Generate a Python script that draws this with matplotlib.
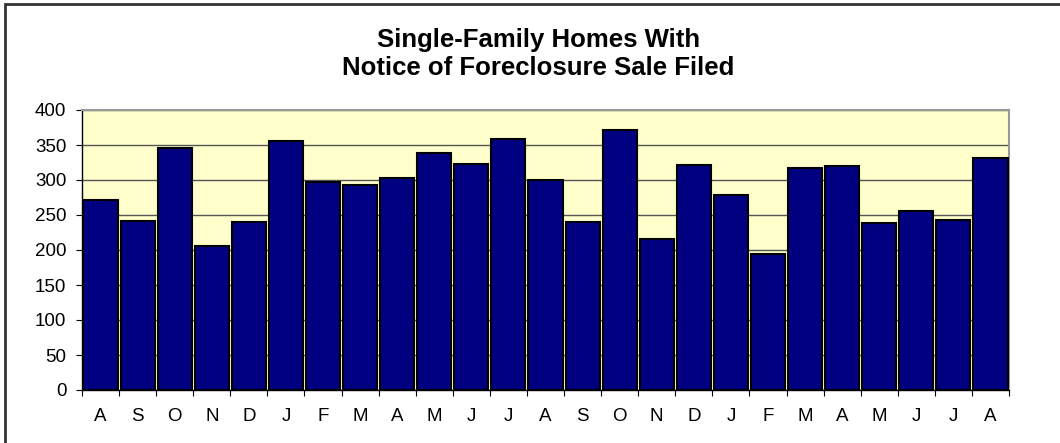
import matplotlib.pyplot as plt
from matplotlib.patches import Rectangle

months = ["A", "S", "O", "N", "D", "J", "F", "M", "A", "M", "J", "J", "A",
          "S", "O", "N", "D", "J", "F", "M", "A", "M", "J", "J", "A"]
homes = [271, 242, 346, 206, 240, 356, 297, 293, 303, 338, 323, 358, 300,
         240, 371, 215, 322, 279, 194, 317, 320, 238, 256, 243, 332]
y_ticks = [0, 50, 100, 150, 200, 250, 300, 350, 400]

plt.rcParams['font.family'] = ['Liberation Sans', 'DejaVu Sans']

fig = plt.figure(figsize=(10.6, 4.43), dpi=100)
ax = fig.add_axes([82 / 1060, 1 - 390 / 443, 927 / 1060, 280 / 443])

# outer chart frame, runs off the right/bottom edge like the reference
fig.patches.append(Rectangle((5 / 1060, -0.05), 1.1, 1 - 4 / 443 + 0.05,
                             transform=fig.transFigure, fill=False,
                             edgecolor='#333333', linewidth=2))

ax.set_facecolor('#FFFFCC')
x = list(range(len(homes)))
ax.bar(x, homes, width=0.92, color='#000080', edgecolor='black',
       linewidth=1.5, zorder=3)

ax.set_xlim(-0.5, len(homes) - 0.5)
ax.set_ylim(0, 400)
ax.set_yticks(y_ticks)
ax.yaxis.grid(True, color='#555555', linewidth=1, zorder=0)

# category ticks sit between bars, labels centred under bars
ax.set_xticks([i - 0.5 for i in range(len(homes) + 1)])
ax.set_xticklabels([])
ax.set_xticks(x, minor=True)
ax.set_xticklabels(months, minor=True)
ax.tick_params(axis='x', which='minor', length=0, pad=13, labelsize=13.5)
ax.tick_params(axis='x', which='major', length=4.3, direction='out')
ax.tick_params(axis='y', length=4.3, direction='out', labelsize=13.5, pad=7)

for side in ['top', 'right']:
    ax.spines[side].set_color('#999999')
    ax.spines[side].set_linewidth(1.5)
for side in ['left', 'bottom']:
    ax.spines[side].set_color('black')
    ax.spines[side].set_linewidth(1)

fig.text(0.508, 1 - 54 / 443, "Single-Family Homes With\nNotice of Foreclosure Sale Filed",
         ha='center', va='center', fontsize=18.5, fontweight='bold', linespacing=1.2)

fig.savefig("out.png", dpi=100)
